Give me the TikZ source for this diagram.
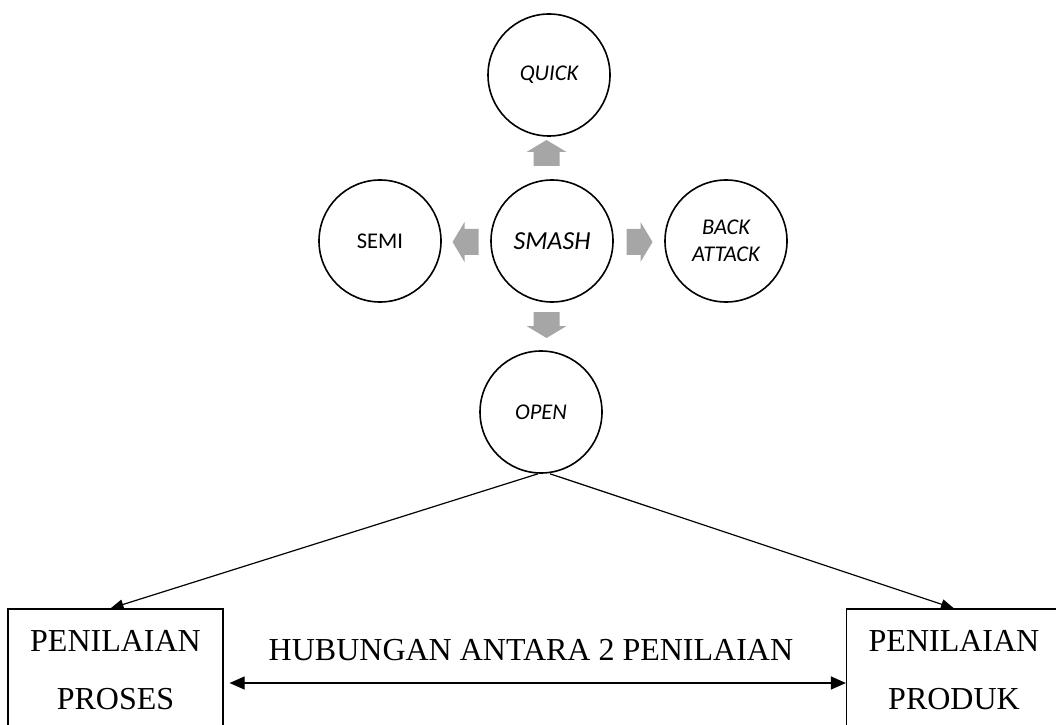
\documentclass[tikz,border=0pt]{standalone}
\usepackage{fontspec}
\setmainfont{Liberation Serif}
\newfontfamily\calibri{Carlito}
\usepackage{tikz}
\usetikzlibrary{arrows.meta}

\definecolor{arrowgray}{HTML}{A6A6A6}

\begin{document}
\begin{tikzpicture}[x=1pt, y=1pt,
    bubble/.style={draw, circle, line width=1.6pt, minimum size=122pt, inner sep=0pt, align=center,
      font=\calibri\itshape\fontsize{22.5}{27}\selectfont},
    penilaian/.style={draw, line width=1.2pt, minimum width=215pt, minimum height=122pt, align=center,
      font=\fontsize{32}{58}\selectfont},
    blockarrow/.pic={\fill[arrowgray] (-13,-13) -- (1,-13) -- (1,-20) -- (13,0) -- (1,20) -- (1,13) -- (-13,13) -- cycle;}]
      \useasboundingbox (0,0) rectangle (1056,724);
      \clip (0,0) rectangle (1056,724);

      % the five kinds of smash
      \node[bubble] (quick) at (549,649) {QUICK};
      \node[bubble, font=\calibri\itshape\fontsize{26}{30}\selectfont] (smash) at (552,483) {SMASH};
      \node[bubble, font=\calibri\fontsize{22.5}{27}\selectfont] (semi) at (380,483) {SEMI};
      \node[bubble] (back) at (726,483) {BACK\\ATTACK};
      \node[bubble] (open) at (541,312) {OPEN};

      \pic[rotate=90] at (546.5,571) {blockarrow};
      \pic[rotate=180] at (465.5,482) {blockarrow};
      \pic at (639.5,482) {blockarrow};
      \pic[rotate=-90] at (546.5,399) {blockarrow};

      % the two assessments
      \node[penilaian] (proses) at (115.5,54) {PENILAIAN\\PROSES};
      \node[penilaian] (produk) at (954,54) {PENILAIAN\\PRODUK};
      \node[anchor=base, font=\fontsize{32}{38}\selectfont] (hubungan) at (531,64) {HUBUNGAN ANTARA 2 PENILAIAN};

      \draw[line width=1.2pt, -{Triangle[length=13pt, width=10pt]}] ([xshift=-3pt]open.south) -- ([xshift=-5pt]proses.north);
      \draw[line width=1.2pt, -{Triangle[length=13pt, width=10pt]}] ([xshift=9pt]open.south) -- (produk.north);
      \draw[line width=1.2pt, {Triangle[length=15pt, width=13pt]}-{Triangle[length=15pt, width=13pt]}]
        ([xshift=6pt, yshift=-13pt]proses.east) -- ([yshift=-13pt]produk.west);
    \end{tikzpicture}
\end{document}
